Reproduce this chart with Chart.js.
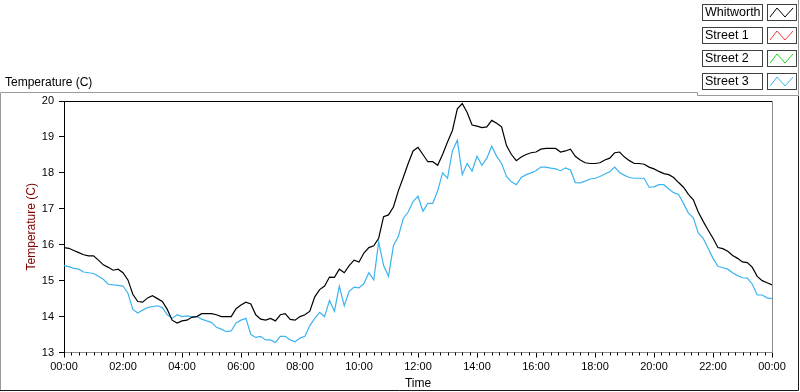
<!DOCTYPE html>
<html>
<head>
<meta charset="utf-8">
<title>Temperature (C)</title>
<script src="https://cdn.jsdelivr.net/npm/chart.js@4.4.1/dist/chart.umd.min.js"></script>
<style>
  html, body { margin: 0; padding: 0; background: #fff; }
  #wrap { width: 800px; height: 392px; }
</style>
</head>
<body>
<div id="wrap"><canvas id="tempChart" width="800" height="392"></canvas></div>
<script>
// readings every 10 minutes over one day
const times = [
  '00:00','00:10','00:20','00:30','00:40','00:50',
  '01:00','01:10','01:20','01:30','01:40','01:50',
  '02:00','02:10','02:20','02:30','02:40','02:50',
  '03:00','03:10','03:20','03:30','03:40','03:50',
  '04:00','04:10','04:20','04:30','04:40','04:50',
  '05:00','05:10','05:20','05:30','05:40','05:50',
  '06:00','06:10','06:20','06:30','06:40','06:50',
  '07:00','07:10','07:20','07:30','07:40','07:50',
  '08:00','08:10','08:20','08:30','08:40','08:50',
  '09:00','09:10','09:20','09:30','09:40','09:50',
  '10:00','10:10','10:20','10:30','10:40','10:50',
  '11:00','11:10','11:20','11:30','11:40','11:50',
  '12:00','12:10','12:20','12:30','12:40','12:50',
  '13:00','13:10','13:20','13:30','13:40','13:50',
  '14:00','14:10','14:20','14:30','14:40','14:50',
  '15:00','15:10','15:20','15:30','15:40','15:50',
  '16:00','16:10','16:20','16:30','16:40','16:50',
  '17:00','17:10','17:20','17:30','17:40','17:50',
  '18:00','18:10','18:20','18:30','18:40','18:50',
  '19:00','19:10','19:20','19:30','19:40','19:50',
  '20:00','20:10','20:20','20:30','20:40','20:50',
  '21:00','21:10','21:20','21:30','21:40','21:50',
  '22:00','22:10','22:20','22:30','22:40','22:50',
  '23:00','23:10','23:20','23:30','23:40','23:50',
  '24:00'
];

const whitworth = [
  15.92, 15.90, 15.84, 15.78, 15.72, 15.69,
  15.69, 15.57, 15.44, 15.37, 15.29, 15.32,
  15.22, 15.02, 14.62, 14.42, 14.40, 14.52,
  14.58, 14.50, 14.42, 14.20, 13.90, 13.82,
  13.88, 13.90, 13.98, 14.00, 14.08, 14.08,
  14.08, 14.05, 14.00, 14.00, 14.00, 14.22,
  14.32, 14.40, 14.35, 14.05, 13.93, 13.90,
  13.95, 13.88, 14.05, 14.08, 13.92, 13.90,
  14.00, 14.05, 14.15, 14.55, 14.75, 14.85,
  15.10, 15.09, 15.32, 15.22, 15.42, 15.57,
  15.52, 15.77, 15.92, 15.97, 16.18, 16.78,
  16.83, 17.05, 17.50, 17.87, 18.26, 18.61,
  18.71, 18.51, 18.31, 18.31, 18.21, 18.51,
  18.86, 19.18, 19.78, 19.93, 19.68, 19.33,
  19.30, 19.26, 19.28, 19.46, 19.38, 19.28,
  18.76, 18.51, 18.34, 18.44, 18.51, 18.56,
  18.58, 18.66, 18.68, 18.68, 18.68, 18.58,
  18.61, 18.66, 18.46, 18.36, 18.28, 18.26,
  18.26, 18.28, 18.36, 18.41, 18.56, 18.58,
  18.44, 18.34, 18.26, 18.26, 18.24, 18.16,
  18.11, 18.04, 17.98, 17.95, 17.87, 17.73,
  17.60, 17.40, 17.25, 16.91, 16.65, 16.41,
  16.18, 15.92, 15.89, 15.82, 15.70, 15.62,
  15.52, 15.50, 15.37, 15.12, 15.00, 14.94,
  14.88
];

const street1 = [];
const street2 = [];

const street3 = [
  15.42, 15.39, 15.34, 15.32, 15.24, 15.22,
  15.20, 15.12, 15.04, 14.90, 14.88, 14.87,
  14.85, 14.65, 14.20, 14.10, 14.18, 14.25,
  14.28, 14.30, 14.25, 14.05, 13.95, 14.05,
  14.00, 14.02, 14.00, 14.00, 13.93, 13.88,
  13.84, 13.70, 13.65, 13.58, 13.60, 13.82,
  13.90, 13.95, 13.50, 13.42, 13.45, 13.35,
  13.35, 13.28, 13.45, 13.45, 13.35, 13.30,
  13.40, 13.45, 13.75, 13.95, 14.12, 14.00,
  14.45, 14.15, 14.85, 14.30, 14.70, 14.82,
  14.80, 14.92, 15.22, 15.02, 16.08, 15.42,
  15.12, 15.97, 16.23, 16.73, 16.91, 17.20,
  17.35, 16.93, 17.15, 17.15, 17.50, 18.00,
  17.85, 18.61, 18.91, 17.95, 18.26, 18.05,
  18.46, 18.21, 18.41, 18.74, 18.46, 18.26,
  17.90, 17.75, 17.67, 17.87, 17.95, 18.00,
  18.06, 18.16, 18.16, 18.13, 18.11, 18.06,
  18.14, 18.08, 17.73, 17.72, 17.77, 17.83,
  17.85, 17.90, 17.97, 18.03, 18.16, 18.01,
  17.93, 17.87, 17.85, 17.85, 17.85, 17.60,
  17.61, 17.67, 17.67, 17.55, 17.45, 17.40,
  17.15, 16.88, 16.75, 16.33, 16.18, 15.90,
  15.62, 15.40, 15.36, 15.32, 15.22, 15.14,
  15.08, 15.07, 14.90, 14.60, 14.60, 14.52,
  14.50
];

const seriesNames = ['Whitworth', 'Street 1', 'Street 2', 'Street 3'];
const seriesColors = ['#000000', '#f03c3c', '#18d818', '#3cb4f0'];
const xTickLabels = ['00:00','02:00','04:00','06:00','08:00','10:00','12:00',
                     '14:00','16:00','18:00','20:00','22:00','00:00'];

const FONT = 'Liberation Sans';

const toHours = t => Number(t.slice(0, 2)) + Number(t.slice(3)) / 60;
const toPoints = values => values.map((v, i) => ({ x: toHours(times[i]), y: v }));

// panel frame, top caption, minor ticks and the boxed legend
const panelPlugin = {
    id: 'panel',
    beforeDraw(chart) {
        const ctx = chart.ctx;
        ctx.save();
        ctx.fillStyle = '#ffffff';
        ctx.fillRect(0, 0, chart.width, chart.height);
        ctx.restore();
    },
    afterDraw(chart) {
        const ctx = chart.ctx;
        const area = chart.chartArea;
        const xScale = chart.scales.x;
        ctx.save();
        ctx.lineWidth = 1;

        // plot border: top dark, right grey
        ctx.strokeStyle = '#000000';
        ctx.beginPath();
        ctx.moveTo(area.left, Math.round(area.top) + 0.5);
        ctx.lineTo(area.right, Math.round(area.top) + 0.5);
        ctx.stroke();
        ctx.strokeStyle = '#8c8c8c';
        ctx.beginPath();
        ctx.moveTo(Math.round(area.right) + 0.5, area.top);
        ctx.lineTo(Math.round(area.right) + 0.5, area.bottom);
        ctx.stroke();

        // minor ticks every 15 minutes
        ctx.strokeStyle = '#000000';
        ctx.beginPath();
        for (let q = 0; q <= 96; q++) {
            if (q % 8 === 0) continue;
            const px = Math.round(xScale.getPixelForValue(q / 4)) + 0.5;
            ctx.moveTo(px, area.bottom);
            ctx.lineTo(px, area.bottom + 3);
        }
        ctx.stroke();

        // caption
        ctx.fillStyle = '#000000';
        ctx.font = '12px "' + FONT + '"';
        ctx.textBaseline = 'alphabetic';
        ctx.textAlign = 'left';
        ctx.fillText('Temperature (C)', 5, 86);

        // outer frame
        ctx.strokeStyle = '#9a9a9a';
        ctx.beginPath();
        ctx.moveTo(0.5, 391);
        ctx.lineTo(0.5, 92.5);
        ctx.lineTo(697.5, 92.5);
        ctx.lineTo(697.5, 95.5);
        ctx.lineTo(798.5, 95.5);
        ctx.moveTo(798.5, 0);
        ctx.lineTo(798.5, 95.5);
        ctx.stroke();
        ctx.strokeStyle = '#1a1a1a';
        ctx.beginPath();
        ctx.moveTo(798.5, 96);
        ctx.lineTo(798.5, 390.5);
        ctx.lineTo(0, 390.5);
        ctx.stroke();

        // legend
        ctx.font = '12.5px "' + FONT + '"';
        chart.data.datasets.forEach((ds, i) => {
            const top = 4 + Math.round(i * 23);
            ctx.strokeStyle = '#404040';
            ctx.strokeRect(702.5, top + 0.5, 60, 16);
            ctx.strokeRect(767.5, top + 0.5, 29, 16);
            ctx.fillStyle = '#000000';
            ctx.textBaseline = 'middle';
            ctx.fillText(ds.label, 705, top + 9);
            ctx.strokeStyle = ds.borderColor;
            ctx.beginPath();
            ctx.moveTo(770, top + 13);
            ctx.lineTo(777, top + 4);
            ctx.lineTo(785, top + 13);
            ctx.lineTo(793, top + 4);
            ctx.stroke();
        });
        ctx.restore();
    }
};

const seriesData = [whitworth, street1, street2, street3];

new Chart(document.getElementById('tempChart'), {
    type: 'line',
    data: {
        datasets: seriesNames.map((name, i) => ({
            label: name,
            data: toPoints(seriesData[i]),
            borderColor: seriesColors[i],
            backgroundColor: seriesColors[i],
            borderWidth: 1.2,
            pointRadius: 0,
            tension: 0,
            fill: false
        }))
    },
    options: {
        responsive: false,
        animation: false,
        devicePixelRatio: 1,
        layout: { padding: { top: 101, right: 28, left: 0, bottom: 0 } },
        plugins: {
            legend: { display: false },
            tooltip: { enabled: false }
        },
        scales: {
            x: {
                type: 'linear',
                min: 0,
                max: 24,
                afterFit: s => { s.height = 39.5; },
                border: { display: true, color: '#8c8c8c' },
                grid: { drawOnChartArea: false, tickLength: 5, color: '#000000' },
                ticks: {
                    stepSize: 2,
                    autoSkip: false,
                    maxRotation: 0,
                    padding: 3,
                    color: '#000000',
                    font: { family: FONT, size: 11 },
                    callback: (value, index) => xTickLabels[index]
                },
                title: {
                    display: true,
                    text: 'Time',
                    color: '#000000',
                    font: { family: FONT, size: 12 },
                    padding: { top: 0, bottom: 1 }
                }
            },
            y: {
                min: 13,
                max: 20,
                afterFit: s => { s.width = 64; },
                border: { display: true, color: '#000000' },
                grid: { drawOnChartArea: false, tickLength: 5, color: '#000000' },
                ticks: {
                    stepSize: 1,
                    padding: 5,
                    color: '#000000',
                    font: { family: FONT, size: 11 }
                },
                title: {
                    display: true,
                    text: 'Temperature (C)',
                    color: '#800000',
                    font: { family: FONT, size: 12 },
                    padding: { top: 24, bottom: 0 }
                }
            }
        }
    },
    plugins: [panelPlugin]
});
</script>
</body>
</html>
